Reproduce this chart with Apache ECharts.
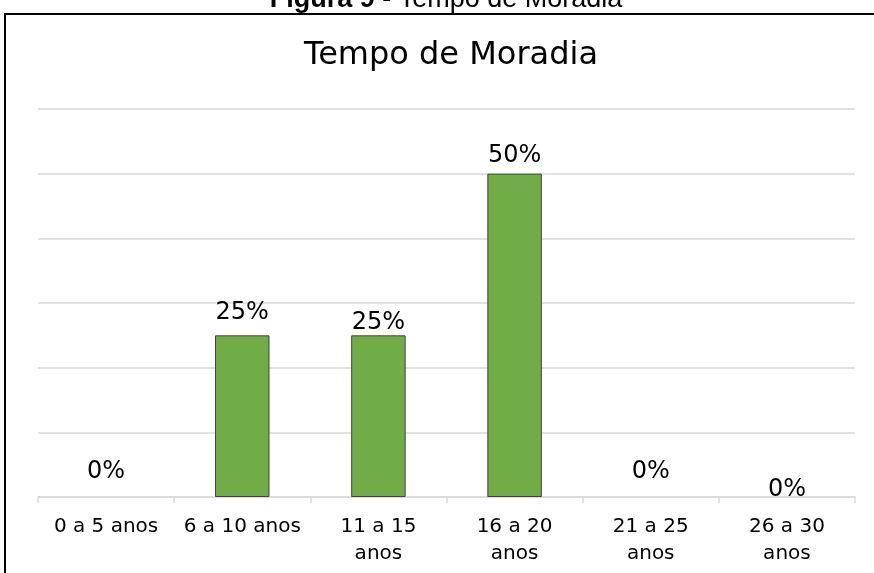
<!DOCTYPE html>
<html>
<head>
<meta charset="utf-8">
<script src="https://cdn.jsdelivr.net/npm/echarts@6/dist/echarts.min.js"></script>
<style>
html,body{margin:0;padding:0;background:#fff;}
#c{width:874px;height:573px;}
</style>
</head>
<body>
<div id="c"></div>
<script>
const categories = ['0 a 5 anos', '6 a 10 anos', '11 a 15\nanos', '16 a 20\nanos', '21 a 25\nanos', '26 a 30\nanos'];
const values = [0, 25, 25, 50, 0, 0];
const yTicks = [0, 10, 20, 30, 40, 50, 60];

// label nudges (style only) to mimic the reference's label placement
const labelNudge = [-7, -5, 5, 0, -7, 11];

const chart = echarts.init(document.getElementById('c'), null, {renderer: 'canvas'});
const FONT = 'DejaVu Sans';
chart.setOption({
  animation: false,
  backgroundColor: '#fff',
  graphic: [
    {type: 'rect', shape: {x: 5, y: 14, width: 880, height: 600}, style: {fill: 'none', stroke: '#000', lineWidth: 2}, z: 100},
    {type: 'text', x: 446, y: 13, style: {text: '{b|Figura 9 -} Tempo de Moradia', align: 'center', verticalAlign: 'bottom', rich: {b: {fontWeight: 'bold', fontFamily: 'Liberation Sans', fontSize: 27, fill: '#000'}}, fontFamily: 'Liberation Sans', fontSize: 27, fill: '#000'}}
  ],
  title: {
    text: 'Tempo de Moradia',
    left: 446,
    textAlign: 'center',
    top: 35,
    textStyle: {fontFamily: 'DejaVu Sans', fontWeight: 'normal', fontSize: 32, color: '#000'}
  },
  grid: {left: 38, right: 19, top: 109, bottom: 76, containLabel: false},
  xAxis: {
    type: 'category',
    data: categories,
    axisLine: {lineStyle: {color: '#d9d9d9', width: 1.5}},
    axisTick: {show: true, length: 6, lineStyle: {color: '#d9d9d9', width: 1.5}},
    axisLabel: {interval: 0, fontFamily: FONT, fontSize: 20, color: '#000', lineHeight: 27, margin: 16}
  },
  yAxis: {
    type: 'value',
    min: yTicks[0],
    max: yTicks[yTicks.length - 1],
    interval: yTicks[1] - yTicks[0],
    axisLabel: {show: false},
    axisLine: {show: false},
    axisTick: {show: false},
    splitLine: {lineStyle: {color: '#d9d9d9', width: 1.5}}
  },
  series: [{
    type: 'bar',
    barWidth: '40%',
    data: values.map((v, i) => ({
      value: v,
      itemStyle: v === 0 ? {borderWidth: 0} : undefined,
      label: {offset: [0, labelNudge[i]]}
    })),
    itemStyle: {color: '#70ad47', borderColor: '#404040', borderWidth: 1},
    label: {
      show: true,
      position: 'top',
      distance: 6,
      formatter: p => p.value + '%',
      fontFamily: FONT,
      fontSize: 24,
      color: '#000'
    }
  }]
});
</script>
</body>
</html>
